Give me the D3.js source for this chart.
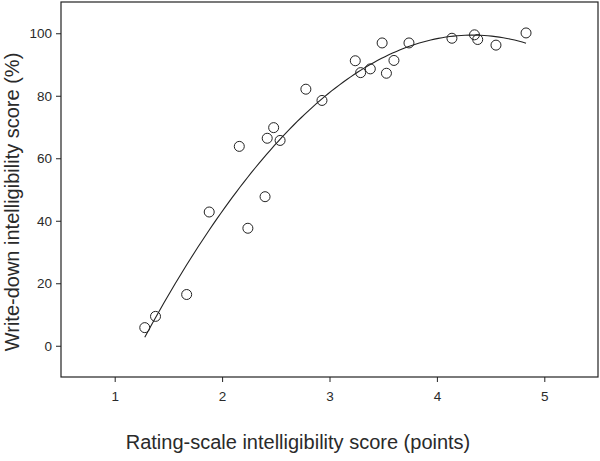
<!DOCTYPE html>
<html>
<head>
<meta charset="utf-8">
<script src="https://cdn.jsdelivr.net/npm/d3@7"></script>
<style>
  body { margin: 0; background: #fff; }
  svg { display: block; }
  text { font-family: "Liberation Sans", Arial, sans-serif; fill: #2a2a2a; }
</style>
</head>
<body>
<svg id="chart"></svg>
<script>
// rating-scale score (points) vs write-down score (%)
const ratingScore = [1.28, 1.38, 1.67, 1.88, 2.16, 2.24, 2.40, 2.42, 2.48, 2.54, 2.78, 2.93,
  3.24, 3.29, 3.38, 3.49, 3.53, 3.60, 3.74, 4.14, 4.35, 4.38, 4.55, 4.83];
const writeDownScore = [5.8, 9.4, 16.4, 42.8, 63.8, 37.6, 47.7, 66.4, 69.8, 65.7, 82.1, 78.5,
  91.2, 87.4, 88.6, 96.9, 87.2, 91.3, 96.9, 98.4, 99.5, 98.0, 96.2, 100.1];
const xTicks = [1, 2, 3, 4, 5];
const yTicks = [0, 20, 40, 60, 80, 100];

const width = 600, height = 461;
const margin = {top: 2, right: 2, bottom: 84, left: 61};
const w = width - margin.left - margin.right;
const h = height - margin.top - margin.bottom;

const svg = d3.select('#chart').attr('width', width).attr('height', height);
const g = svg.append('g').attr('transform', `translate(${margin.left},${margin.top})`);

const x = d3.scaleLinear().domain([0.5, 5.5]).range([0, w]);
const y = d3.scaleLinear().domain([-10, 110]).range([h, 0]);

// frame
g.append('rect').attr('width', w).attr('height', h)
  .attr('fill', 'none').attr('stroke', '#222').attr('stroke-width', 1.2);

const xAxis = d3.axisBottom(x).tickValues(xTicks).tickFormat(d3.format('d'))
  .tickSize(5).tickPadding(9).tickSizeOuter(0);
const yAxis = d3.axisLeft(y).tickValues(yTicks).tickFormat(d3.format('d'))
  .tickSize(5).tickPadding(4).tickSizeOuter(0);

const gx = g.append('g').attr('transform', `translate(0,${h})`).call(xAxis);
const gy = g.append('g').call(yAxis);
[gx, gy].forEach(a => {
  a.select('.domain').remove();
  a.selectAll('line').attr('stroke', '#222');
  a.selectAll('text').attr('font-size', 13.5).attr('fill', '#2a2a2a')
    .style('font-family', '"Liberation Sans", Arial, sans-serif');
});

// quadratic least-squares fit of the points
function quadFit(xs, ys) {
  const n = xs.length;
  let s = [0, 0, 0, 0, 0], t = [0, 0, 0];
  for (let i = 0; i < n; i++) {
    let p = 1;
    for (let k = 0; k < 5; k++) { s[k] += p; if (k < 3) t[k] += p * ys[i]; p *= xs[i]; }
  }
  const A = [[s[0], s[1], s[2], t[0]], [s[1], s[2], s[3], t[1]], [s[2], s[3], s[4], t[2]]];
  for (let i = 0; i < 3; i++) {
    for (let j = i + 1; j < 3; j++) {
      const f = A[j][i] / A[i][i];
      for (let k = i; k < 4; k++) A[j][k] -= f * A[i][k];
    }
  }
  const c = [0, 0, 0];
  for (let i = 2; i >= 0; i--) {
    let v = A[i][3];
    for (let k = i + 1; k < 3; k++) v -= A[i][k] * c[k];
    c[i] = v / A[i][i];
  }
  return c;
}
const coef = quadFit(ratingScore, writeDownScore);
const xmin = d3.min(ratingScore), xmax = d3.max(ratingScore);
const fitPts = d3.range(0, 101).map(i => {
  const xv = xmin + (xmax - xmin) * i / 100;
  return [xv, coef[0] + coef[1] * xv + coef[2] * xv * xv];
});
g.append('path').datum(fitPts)
  .attr('fill', 'none').attr('stroke', '#222').attr('stroke-width', 1.1)
  .attr('d', d3.line().x(d => x(d[0])).y(d => y(d[1])));

g.selectAll('circle').data(ratingScore).join('circle')
  .attr('cx', d => x(d))
  .attr('cy', (d, i) => y(writeDownScore[i]))
  .attr('r', 5)
  .attr('fill', 'none').attr('stroke', '#222').attr('stroke-width', 1);

// axis titles
svg.append('text').attr('x', 298).attr('y', 449)
  .attr('text-anchor', 'middle').attr('font-size', 20)
  .text('Rating-scale intelligibility score (points)');
svg.append('text').attr('transform', 'translate(19,202) rotate(-90)')
  .attr('text-anchor', 'middle').attr('font-size', 20)
  .text('Write-down intelligibility score (%)');
</script>
</body>
</html>
